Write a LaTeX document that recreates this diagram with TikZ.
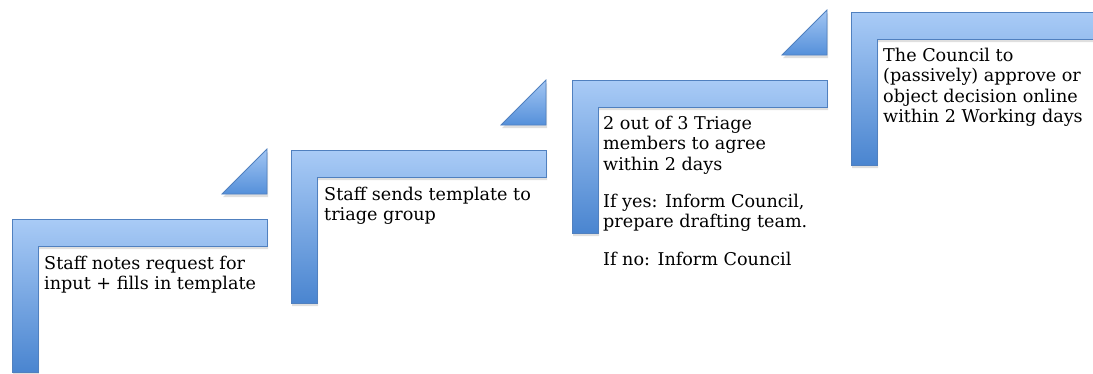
\documentclass[tikz,border=0pt]{standalone}
\usepackage{fontspec}
\setmainfont{DejaVu Serif}
\usetikzlibrary{shadows}
\definecolor{stepTop}{HTML}{A9CBF6}
\definecolor{stepBot}{HTML}{4A85D0}
\definecolor{stepEdge}{HTML}{5080BF}
\definecolor{triTop}{HTML}{A3C6F3}
\definecolor{triBot}{HTML}{5590DA}
\tikzset{
  stepL/.style={draw=stepEdge, line width=0.8pt, top color=stepTop, bottom color=stepBot,
                drop shadow={opacity=0.25, shadow xshift=1pt, shadow yshift=-3pt}},
  stepTri/.style={draw=stepEdge, line width=0.8pt, top color=triTop, bottom color=triBot,
                  drop shadow={opacity=0.25, shadow xshift=1pt, shadow yshift=-3pt}},
  stepText/.style={anchor=north west, inner sep=0pt, align=left,
                   font=\fontsize{17.6}{20.3}\selectfont},
}

\begin{document}
\begin{tikzpicture}[x=1pt, y=-1pt]
  \useasboundingbox (0,0) rectangle (1093,373);
  \clip (0,0) rectangle (1093,373);
  % L shaped steps with their small triangles
  \foreach \ox/\oy in {12/219, 291/150, 572/80, 851/12} {
    \draw[stepL] (\ox,\oy) -- ++(255,0) -- ++(0,27) -- ++(-229,0) -- ++(0,126) -- ++(-26,0) -- cycle;
    \draw[stepTri] (\ox+210,\oy-25) -- ++(45,0) -- ++(0,-45) -- cycle;
  }
  % step texts
  \node[stepText] (notes) at (44,256) {Staff notes request for\\input + fills in template};
  \node[stepText] (sends) at (324,187) {Staff sends template to\\triage group};
  \node[stepText] (triage) at (603,116) {2 out of 3 Triage\\members to agree\\within 2 days\\[17pt]If yes: Inform Council,\\prepare drafting team.\\[17pt]If no: Inform Council};
  \node[stepText] (council) at (883,48) {The Council to\\(passively) approve or\\object decision online\\within 2 Working days};
\end{tikzpicture}
\end{document}
